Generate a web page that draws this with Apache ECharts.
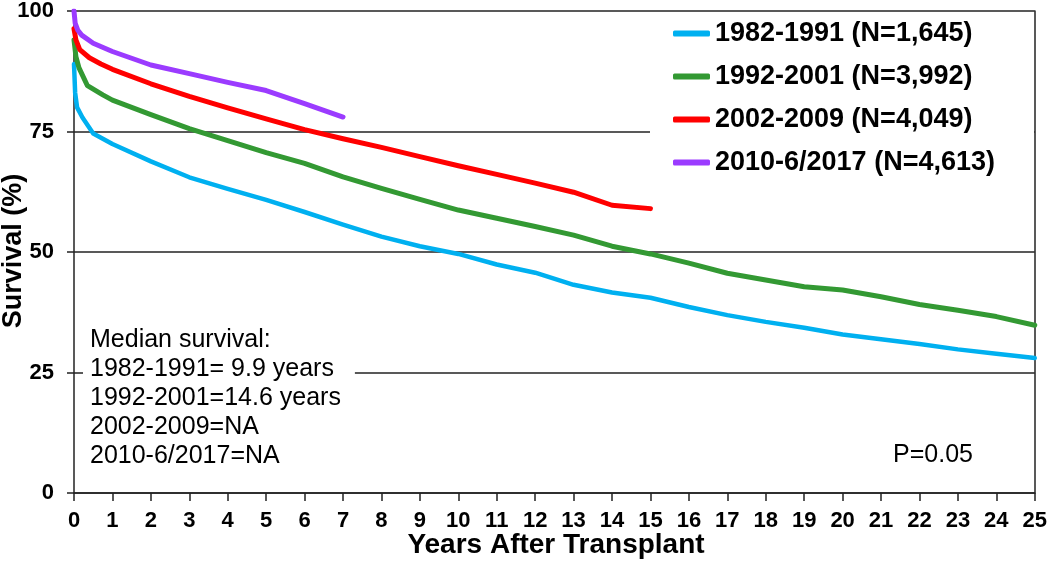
<!DOCTYPE html>
<html>
<head>
<meta charset="utf-8">
<script src="https://cdn.jsdelivr.net/npm/echarts@6/dist/echarts.min.js"></script>
<style>html,body{margin:0;padding:0;background:#fff}#c{width:1050px;height:563px}</style>
</head>
<body>
<div id="c"></div>
<script>
const seriesNames = ['1982-1991 (N=1,645)', '1992-2001 (N=3,992)', '2002-2009 (N=4,049)', '2010-6/2017 (N=4,613)'];
const seriesColors = ['#00B0F0', '#339933', '#FF0000', '#9B3BFF'];

const years8291 = [0,0.03,0.08,0.22,0.5,1,2,3,4,5,6,7,8,9,10,11,12,13,14,15,16,17,18,19,20,21,22,23,24,25];
const surv8291  = [89,83,80,77.9,74.6,72.4,68.8,65.5,63.1,60.8,58.3,55.7,53.2,51.2,49.6,47.4,45.7,43.2,41.6,40.5,38.6,36.9,35.5,34.3,32.9,31.9,30.9,29.8,28.9,28.0];

const years9201 = [0,0.05,0.13,0.35,0.75,1,2,3,4,5,6,7,8,9,10,11,12,13,14,15,16,17,18,19,20,21,22,23,24,25];
const surv9201  = [94,90.5,88.2,84.5,82.6,81.5,78.5,75.6,73.1,70.6,68.4,65.6,63.2,60.9,58.7,57,55.3,53.5,51.2,49.6,47.7,45.6,44.2,42.8,42.1,40.7,39.1,37.9,36.6,34.8];

const years0209 = [0,0.05,0.15,0.4,0.7,1,2,3,4,5,6,7,8,9,10,11,12,13,14,15];
const surv0209  = [96.3,94,92,90.3,89,87.9,84.9,82.3,79.9,77.6,75.4,73.5,71.7,69.8,67.9,66.1,64.3,62.4,59.7,59.0];

const years1017 = [0,0.03,0.1,0.2,0.5,1,2,3,4,5,6,7];
const surv1017  = [100,97.5,96,95,93.3,91.6,88.8,87,85.2,83.5,80.8,78];

const xTitle = 'Years After Transplant';
const yTitle = 'Survival (%)';
const medianLines = ['Median survival:', '1982-1991= 9.9 years', '1992-2001=14.6 years', '2002-2009=NA', '2010-6/2017=NA'];
const pText = 'P=0.05';

const FONT = '"Liberation Sans", Arial, sans-serif';
const allYears = [years8291, years9201, years0209, years1017];
const allSurv = [surv8291, surv9201, surv0209, surv1017];

const chart = echarts.init(document.getElementById('c'), null, {renderer: 'canvas'});
const series = seriesNames.map((name, i) => ({
  name: name,
  type: 'line',
  data: allYears[i].map((x, j) => [x, allSurv[i][j]]),
  showSymbol: false,
  symbol: 'none',
  smooth: false,
  color: seriesColors[i],
  lineStyle: {width: i === 0 ? 4.5 : 5, color: seriesColors[i], cap: 'round', join: 'round'},
  z: 2,
  animation: false
}));

chart.setOption({
  animation: false,
  backgroundColor: '#fff',
  textStyle: {fontFamily: FONT},
  grid: {left: 74, right: 13, top: 10, bottom: 70, containLabel: false},
  xAxis: {
    type: 'value', min: 0, max: 25, interval: 1,
    axisLine: {show: true, lineStyle: {color: '#222', width: 1.5}},
    axisTick: {show: true, inside: false, length: 8, lineStyle: {color: '#222', width: 1.5}},
    axisLabel: {fontFamily: FONT, fontWeight: 'bold', fontSize: 22, color: '#000', margin: 17},
    splitLine: {show: false}
  },
  yAxis: [{
    type: 'value', min: 0, max: 100, interval: 25,
    axisLine: {show: true, lineStyle: {color: '#222', width: 1.5}},
    axisTick: {show: true, inside: false, length: 7, lineStyle: {color: '#222', width: 1.5}},
    axisLabel: {fontFamily: FONT, fontWeight: 'bold', fontSize: 22, color: '#000', margin: 20},
    splitLine: {show: true, lineStyle: {color: '#222', width: 1.5}}
  }, {
    type: 'value', min: 0, max: 100, interval: 25, position: 'right',
    axisLine: {show: true, lineStyle: {color: '#222', width: 1.5}},
    axisTick: {show: false}, axisLabel: {show: false}, splitLine: {show: false}
  }],
  legend: {
    orient: 'vertical',
    left: 650, top: 12,
    padding: [8, 10, 10, 23],
    itemGap: 16,
    itemWidth: 37, itemHeight: 6,
    icon: 'roundRect',
    textStyle: {fontFamily: FONT, fontWeight: 'bold', fontSize: 27, lineHeight: 27, color: '#000'},
    data: seriesNames
  },
  graphic: [
    {type: 'rect', z: 3, shape: {x: 650, y: 12, width: 384, height: 172}, style: {fill: '#fff'}},
    {type: 'text', x: 14, y: 251, rotation: Math.PI / 2, z: 100,
     style: {text: yTitle, font: 'bold 27px ' + FONT, fill: '#000', align: 'center', verticalAlign: 'middle'}},
    {type: 'text', x: 556, y: 545, z: 100,
     style: {text: xTitle, font: 'bold 28px ' + FONT, fill: '#000', align: 'center', verticalAlign: 'middle'}},
    {type: 'text', x: 83, y: 326, z: 100,
     style: {text: medianLines.join('\n'), font: '25px ' + FONT, lineHeight: 29, fill: '#000',
             backgroundColor: '#fff', padding: [0, 14, 2, 7], align: 'left', verticalAlign: 'top'}},
    {type: 'text', x: 933, y: 455, z: 100,
     style: {text: pText, font: '25px ' + FONT, fill: '#000', align: 'center', verticalAlign: 'middle'}}
  ],
  series: series
});
</script>
</body>
</html>
